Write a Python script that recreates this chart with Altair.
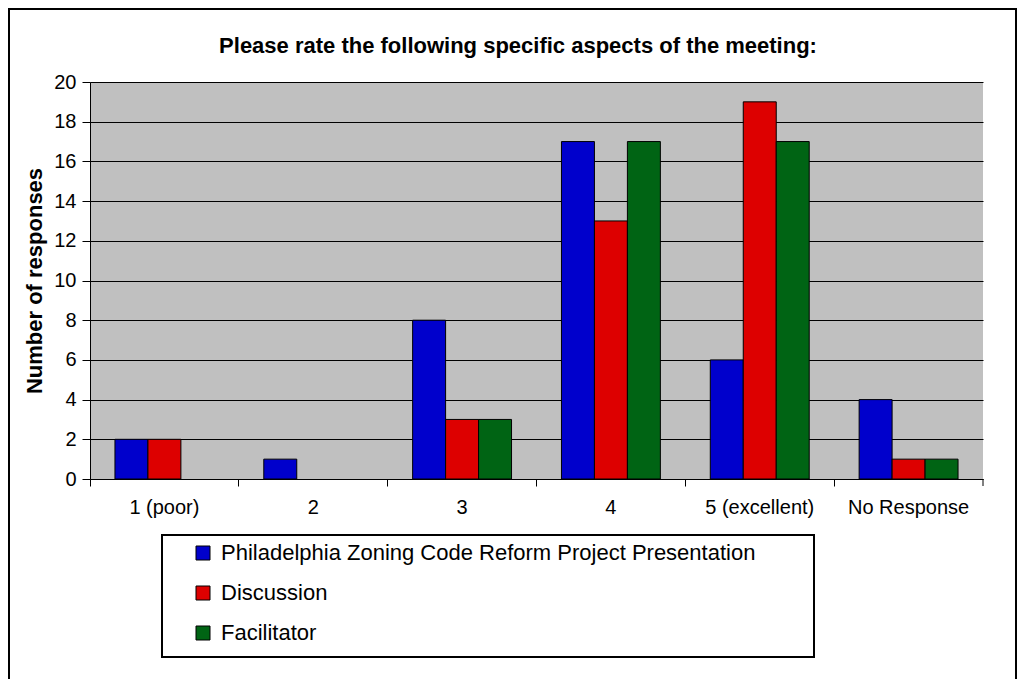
import altair as alt
import pandas as pd

categories = ["1 (poor)", "2", "3", "4", "5 (excellent)", "No Response"]
series = ["Philadelphia Zoning Code Reform Project Presentation", "Discussion", "Facilitator"]
presentation = [2, 1, 8, 17, 6, 4]
discussion = [2, 0, 3, 13, 19, 1]
facilitator = [0, 0, 3, 17, 17, 1]
colors = ["#0000CC", "#DD0000", "#006414"]
y_ticks = [0, 2, 4, 6, 8, 10, 12, 14, 16, 18, 20]
title_text = "Please rate the following specific aspects of the meeting:"

rows = []
for name, vals in zip(series, [presentation, discussion, facilitator]):
    for c, v in zip(categories, vals):
        rows.append({"category": c, "series": name, "value": v})
df = pd.DataFrame(rows)

FONT = "Liberation Sans"
W, H = 893, 397

bars = alt.Chart(df).transform_filter("datum.value > 0").mark_bar(
    stroke="black", strokeWidth=1
).encode(
    x=alt.X("category:N", sort=categories,
            scale=alt.Scale(domain=categories, paddingInner=0, paddingOuter=0),
            axis=alt.Axis(title=None, labelAngle=0, bandPosition=0, tickSize=7,
                          labelPadding=11, labelFontSize=20, labelFont=FONT,
                          labelColor="black", domainColor="black", tickColor="black",
                          grid=False)),
    xOffset=alt.XOffset("series:N", sort=series,
                        scale=alt.Scale(domain=series, paddingInner=0, paddingOuter=0.757)),
    y=alt.Y("value:Q", scale=alt.Scale(domain=[0, 20], nice=False),
            axis=alt.Axis(values=y_ticks, title="Number of responses", tickSize=8,
                          labelPadding=6, labelFontSize=20, labelFont=FONT,
                          labelColor="black", domainColor="black", tickColor="black",
                          gridColor="black", gridWidth=1, gridOpacity=1,
                          titleFont=FONT, titleFontSize=22, titleFontWeight="bold",
                          titleColor="black", titleX=-56, titleY=H / 2,
                          titleAlign="center", titleBaseline="middle", titleAngle=-90)),
    color=alt.Color("series:N", sort=series,
                    scale=alt.Scale(domain=series, range=colors),
                    legend=alt.Legend(title=None, orient="none", legendX=102, legendY=460,
                                      direction="vertical", symbolType="square",
                                      symbolSize=196, symbolStrokeColor="black",
                                      symbolStrokeWidth=1, symbolOpacity=1,
                                      labelFont=FONT, labelFontSize=22, labelColor="black",
                                      labelOffset=7, rowPadding=18, labelLimit=1000,
                                      padding=0)),
)

one = pd.DataFrame({"t": [title_text]})

legend_box = alt.Chart(one).mark_rect(fill="white", stroke="black", strokeWidth=2).encode(
    x=alt.value(72), x2=alt.value(724), y=alt.value(453), y2=alt.value(575)
)

outer_border = alt.Chart(one).mark_rect(filled=False, stroke="black", strokeWidth=2).encode(
    x=alt.value(-81), x2=alt.value(926), y=alt.value(-73), y2=alt.value(640)
)

end_tick = alt.Chart(one).mark_rule(color="black", strokeWidth=1).encode(
    x=alt.value(W), y=alt.value(H), y2=alt.value(H + 7)
)

title = alt.Chart(one).mark_text(
    font=FONT, fontSize=22, fontWeight="bold", color="black",
    align="center", baseline="alphabetic"
).encode(text="t:N", x=alt.value(428), y=alt.value(-29))

chart = alt.layer(outer_border, legend_box, bars, end_tick, title).properties(
    width=W, height=H,
    autosize=alt.AutoSizeParams(type="none"),
    padding={"left": 82, "top": 74, "right": 35, "bottom": 200},
).configure(background="white").configure_view(fill="#C0C0C0", stroke=None)

chart.save("out.html", embed_options={"renderer": "svg", "actions": False})
